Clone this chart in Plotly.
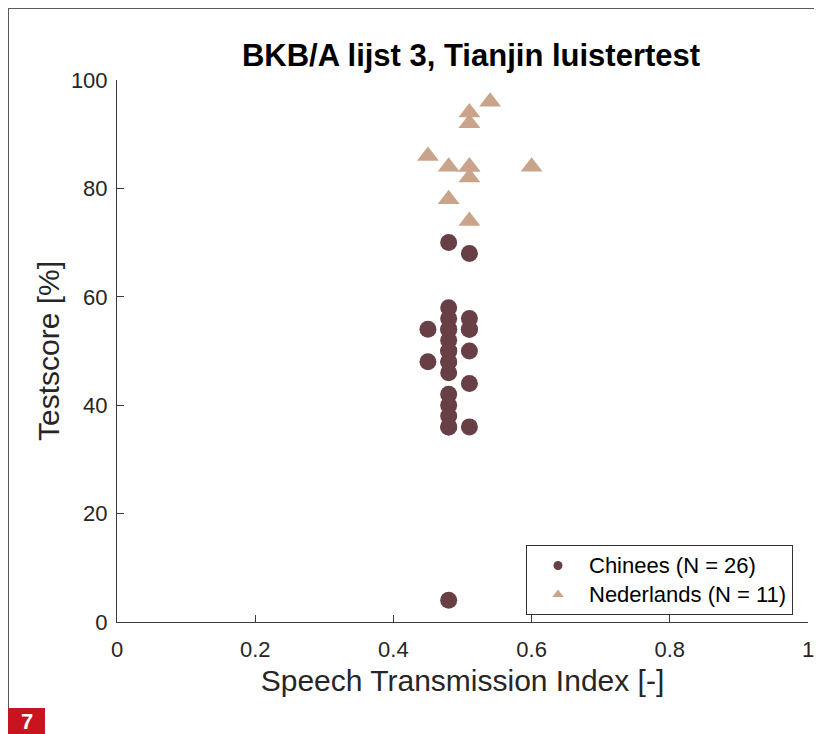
import plotly.graph_objects as go

# Data
chinees_sti = [0.48, 0.51,
               0.48, 0.48, 0.48, 0.48, 0.48, 0.48, 0.48, 0.48, 0.48, 0.48, 0.48,
               0.48, 0.48, 0.48, 0.48, 0.48,
               0.45, 0.45,
               0.51, 0.51, 0.51, 0.51, 0.51, 0.51]
chinees_score = [70, 68,
                 58, 56, 54, 52, 50, 48, 46, 42, 40, 38, 36,
                 54, 50, 48, 36, 4,
                 54, 48,
                 56, 54, 50, 44, 36, 54]
nl_sti = [0.54, 0.51, 0.51, 0.45, 0.48, 0.51, 0.51, 0.60, 0.48, 0.51, 0.51]
nl_score = [96, 94, 92, 86, 84, 84, 82, 84, 78, 74, 84]

x_ticks = [0, 0.2, 0.4, 0.6, 0.8, 1]
x_ticklabels = ["0", "0.2", "0.4", "0.6", "0.8", "1"]
y_ticks = [0, 20, 40, 60, 80, 100]

title_text = "BKB/A lijst 3, Tianjin luistertest"
x_title = "Speech Transmission Index [-]"
y_title = "Testscore [%]"
legend_chinees = "Chinees (N = 26)"
legend_nl = "Nederlands (N = 11)"
figure_number = "7"

COL_CN = "#683F45"
COL_NL = "#C9A48A"

# the page body adds an 8px margin, so the figure is 8px smaller
OFF = 8
W, H = 822 - OFF, 734 - OFF
L, R, T, B = 117 - OFF, 14, 80 - OFF, 112
pw, ph = W - L - R, H - T - B

def px_x(p):  # reference-page pixel -> paper coordinate
    return (p - OFF - L) / pw

def px_y(p):
    return (H - B - (p - OFF)) / ph

FONT = "Liberation Sans, Arial, Helvetica, sans-serif"
AX = "#3a3a3a"
TXT = "#262626"

def legend_label(s):
    return '<span style="font-size:22px">' + s + '</span>'

fig = go.Figure()
fig.add_trace(go.Scatter(
    x=chinees_sti, y=chinees_score, mode="markers", showlegend=False,
    marker=dict(symbol="circle", size=17, color=COL_CN, line=dict(width=0)),
))
fig.add_trace(go.Scatter(
    x=nl_sti, y=nl_score, mode="markers", showlegend=False,
    marker=dict(symbol="triangle-up", size=19, color=COL_NL, line=dict(width=0)),
))
# legend entries (smaller legend symbols, as in the reference)
fig.add_trace(go.Scatter(
    x=[None], y=[None], mode="markers", name=legend_label(legend_chinees),
    marker=dict(symbol="circle", size=9, color=COL_CN, line=dict(width=0)),
))
fig.add_trace(go.Scatter(
    x=[None], y=[None], mode="markers", name=legend_label(legend_nl),
    marker=dict(symbol="triangle-up", size=10, color=COL_NL, line=dict(width=0)),
))

fig.update_layout(
    width=W, height=H,
    margin=dict(l=L, r=R, t=T, b=B, autoexpand=False),
    paper_bgcolor="white", plot_bgcolor="white",
    font=dict(family=FONT, color=TXT, size=22),
    title=dict(text="<b>" + title_text + "</b>", x=(471 - OFF) / W, xanchor="center",
               y=1 - (55 - OFF) / H, yanchor="middle", font=dict(size=31, color="black")),
    showlegend=True,
    legend=dict(x=px_x(793), y=px_y(545), xanchor="right", yanchor="top",
                bordercolor="#333333", borderwidth=1, bgcolor="white",
                font=dict(size=20, color="black"), itemsizing="trace",
                itemwidth=52, tracegroupgap=0),
)
fig.update_xaxes(
    range=[0, 1], tickvals=x_ticks, ticktext=x_ticklabels,
    showgrid=False, zeroline=False, showline=True, linecolor=AX, linewidth=1,
    ticks="inside", ticklen=7, tickcolor=AX, mirror=False, automargin=False,
    tickfont=dict(size=22, color=TXT), ticklabelstandoff=8,
    title=dict(text=x_title, font=dict(size=30, color=TXT), standoff=8),
)
fig.update_yaxes(
    range=[0, 100], tickvals=y_ticks,
    showgrid=False, zeroline=False, showline=True, linecolor=AX, linewidth=1,
    ticks="inside", ticklen=7, tickcolor=AX, mirror=False, automargin=False,
    tickfont=dict(size=22, color=TXT), ticklabelstandoff=4,
    title=dict(text=y_title, font=dict(size=30, color=TXT), standoff=2),
)

# outer page frame and figure number box
fig.add_shape(type="line", xref="paper", yref="paper",
              x0=px_x(8), y0=px_y(8), x1=px_x(830), y1=px_y(8),
              line=dict(color="#5a5a5a", width=2))
fig.add_shape(type="line", xref="paper", yref="paper",
              x0=px_x(8), y0=px_y(8), x1=px_x(8), y1=px_y(708),
              line=dict(color="#5a5a5a", width=2))
fig.add_shape(type="rect", xref="paper", yref="paper",
              x0=px_x(8), y0=px_y(708), x1=px_x(45), y1=px_y(740),
              fillcolor="#C8141E", line=dict(width=0))
fig.add_annotation(text="<b>" + figure_number + "</b>", xref="paper", yref="paper",
                   x=px_x(27), y=px_y(721), xanchor="center", yanchor="middle",
                   showarrow=False,
                   font=dict(size=22, color="white", family=FONT))

fig.write_html("out.html")
